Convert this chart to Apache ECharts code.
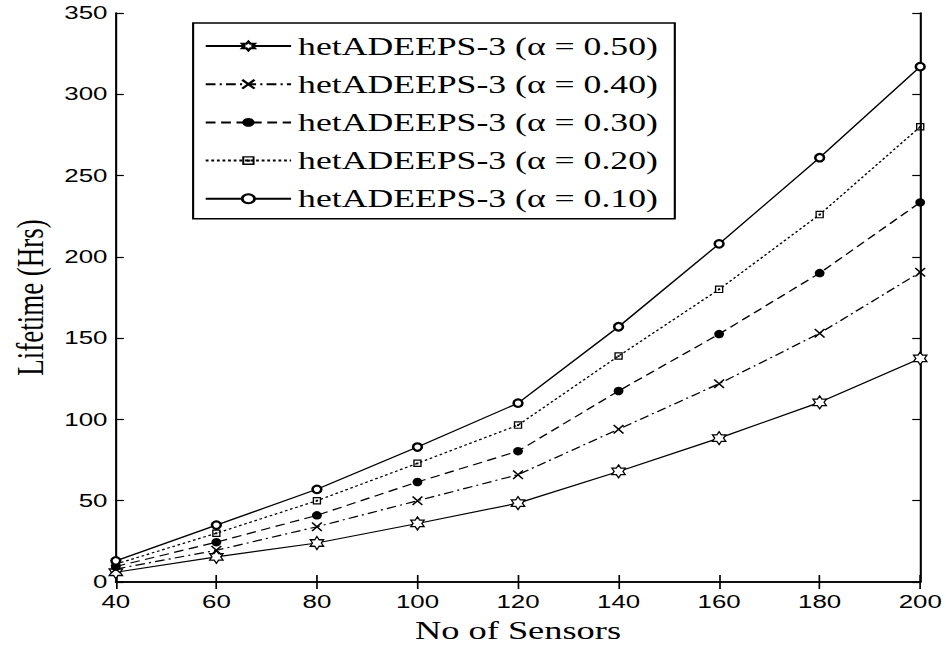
<!DOCTYPE html>
<html>
<head>
<meta charset="utf-8">
<script src="https://cdn.jsdelivr.net/npm/echarts@6/dist/echarts.min.js"></script>
<style>
html,body{margin:0;padding:0;background:#fff;overflow:hidden;}
#c{width:676px;height:648px;transform:scaleX(1.39941);transform-origin:0 0;}
</style>
</head>
<body>
<div id="c"></div>
<script>
// ---- data ----
var sensors = [40, 60, 80, 100, 120, 140, 160, 180, 200];
var alpha050 = [6, 15.5, 24, 36, 48.5, 68, 88.5, 110.5, 137.5];
var alpha040 = [8, 19.5, 34, 50, 66, 94, 122, 153, 190.5];
var alpha030 = [9.5, 24.5, 41, 61.5, 80.5, 117.5, 152.5, 190, 233.5];
var alpha020 = [11, 30, 50, 73, 96.5, 139, 180, 226, 280];
var alpha010 = [13, 35, 57, 83, 110, 157, 208, 261, 317];
var seriesNames = [
  'hetADEEPS-3 (\u03b1 = 0.50)',
  'hetADEEPS-3 (\u03b1 = 0.40)',
  'hetADEEPS-3 (\u03b1 = 0.30)',
  'hetADEEPS-3 (\u03b1 = 0.20)',
  'hetADEEPS-3 (\u03b1 = 0.10)'
];
var xTitle = 'No of Sensors';
var yTitle = 'Lifetime (Hrs)';

function pairs(vals) { return sensors.map(function (x, i) { return [x, vals[i]]; }); }

var hexagram = 'path://M0,-10 L2.89,-5 L8.66,-5 L5.77,0 L8.66,5 L2.89,5 L0,10 L-2.89,5 L-8.66,5 L-5.77,0 L-8.66,-5 L-2.89,-5 Z';
var cross = 'path://M0,0 L10,10 M10,0 L0,10';
var sqDot = 'path://M0,0 L10,0 L10,10 L0,10 Z M1.6,1.6 L1.6,8.4 L8.4,8.4 L8.4,1.6 Z M3.8,3.8 L6.2,3.8 L6.2,6.2 L3.8,6.2 Z';

var serif = 'Liberation Serif';
var sans = 'Liberation Sans';

function mk(name, vals, dash, symbol, size, item) {
  return {
    name: name, type: 'line', data: pairs(vals),
    xAxisIndex: 0, yAxisIndex: 0,
    symbol: symbol, symbolSize: size, symbolKeepAspect: false,
    lineStyle: { color: '#000', width: 1.2, type: dash },
    itemStyle: item,
    emphasis: { disabled: true },
    animation: false, z: 3
  };
}

var chart = echarts.init(document.getElementById('c'), null, { renderer: 'svg' });
var option = {
  animation: false,
  backgroundColor: '#fff',
  grid: { left: 76.5, right: 17.1, top: 13, bottom: 66 },
  legend: {
    data: seriesNames,
    orient: 'vertical',
    left: 138, top: 23,
    padding: [10, 12, 7, 8],
    itemGap: 12.2,
    itemWidth: 61, itemHeight: 11,
    borderColor: '#000', borderWidth: 1.5,
    backgroundColor: '#fff',
    textStyle: { fontFamily: serif, fontSize: 25.5, color: '#000' },
    selectedMode: false
  },
  xAxis: [{
    type: 'value', min: 40, max: 200, interval: 20,
    name: xTitle, nameLocation: 'middle', nameGap: 35,
    nameTextStyle: { fontFamily: serif, fontSize: 26, color: '#000' },
    axisLine: { lineStyle: { color: '#000', width: 1.5 } },
    axisTick: { inside: true, length: 7, lineStyle: { color: '#000', width: 1.2 } },
    axisLabel: { margin: 10, fontFamily: sans, fontSize: 18.5, color: '#000' },
    splitLine: { show: false }
  }, {
    type: 'value', min: 40, max: 200, interval: 20, position: 'top',
    axisLine: { lineStyle: { color: '#000', width: 1.5 } },
    axisTick: { inside: true, length: 7, lineStyle: { color: '#000', width: 1.2 } },
    axisLabel: { show: false }, splitLine: { show: false }
  }],
  yAxis: [{
    type: 'value', min: 0, max: 350, interval: 50,
    name: yTitle, nameLocation: 'middle', nameGap: 38,
    nameTextStyle: { fontFamily: serif, fontSize: 27, color: '#000' },
    axisLine: { show: true, lineStyle: { color: '#000', width: 1.5 } },
    axisTick: { show: true, inside: true, length: 5.7, lineStyle: { color: '#000', width: 1.2 } },
    axisLabel: { margin: 6, fontFamily: sans, fontSize: 18.5, color: '#000' },
    splitLine: { show: false }
  }, {
    type: 'value', min: 0, max: 350, interval: 50, position: 'right',
    axisLine: { show: true, lineStyle: { color: '#000', width: 1.5 } },
    axisTick: { show: true, inside: true, length: 5.7, lineStyle: { color: '#000', width: 1.2 } },
    axisLabel: { show: false }, splitLine: { show: false }
  }],
  series: [
    mk(seriesNames[0], alpha050, 'solid', hexagram, [9.5, 13], { color: '#fff', borderColor: '#000', borderWidth: 1.1 }),
    mk(seriesNames[1], alpha040, [7, 3, 1.5, 3], cross, [7, 8.5], { color: '#000', borderColor: '#000', borderWidth: 1.3 }),
    mk(seriesNames[2], alpha030, [7, 4], 'circle', [7, 8.5], { color: '#000', borderColor: '#000', borderWidth: 0 }),
    mk(seriesNames[3], alpha020, [2, 2], sqDot, [6, 7.5], { color: '#000', borderWidth: 0 }),
    mk(seriesNames[4], alpha010, 'solid', 'emptyCircle', [6.3, 7.5], { color: '#000', borderColor: '#000', borderWidth: 1.1 })
  ]
};
chart.setOption(option);
</script>
</body>
</html>
